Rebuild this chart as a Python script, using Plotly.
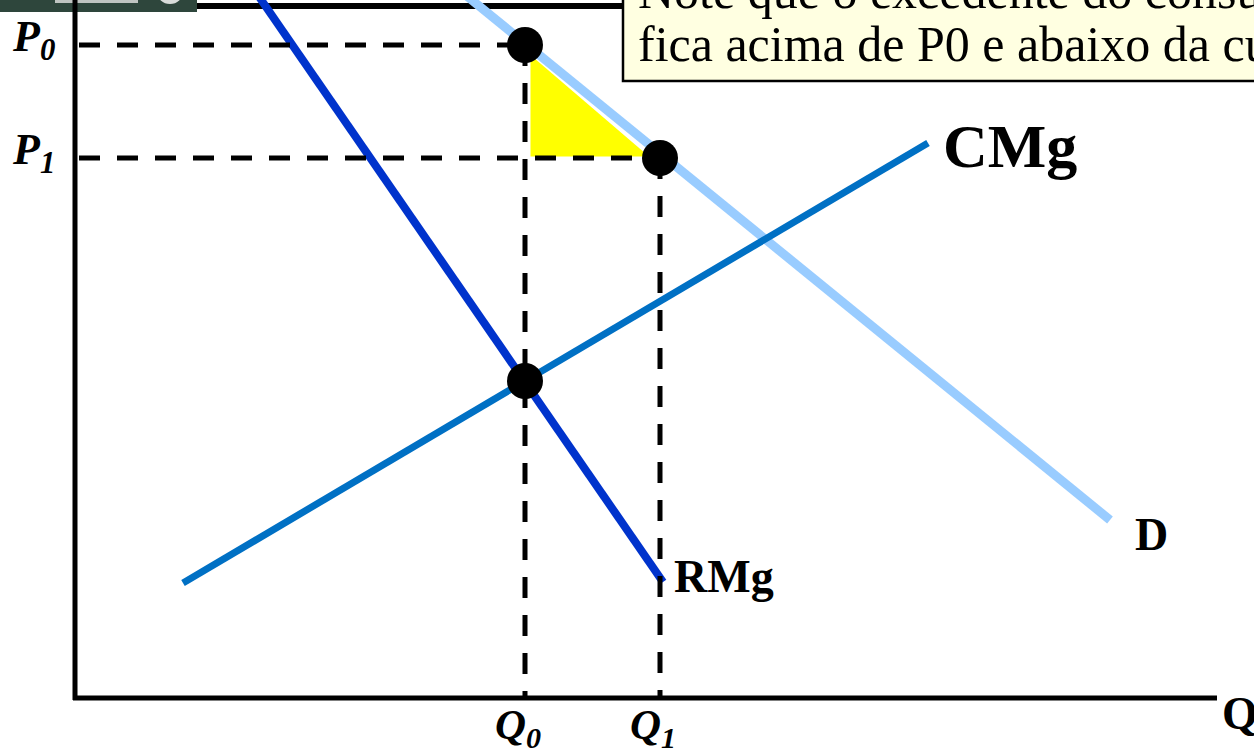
import plotly.graph_objects as go

# ---- data (chart units: Q on horizontal, P on vertical) ----
Q_LEVELS = [45.0, 58.5]          # Q0, Q1
P_LEVELS = [65.3, 54.0]          # P0, P1
CROSS = [45.0, 31.7]             # CMg = RMg
D_Q = [38.2, 103.5]
D_P = [71.0, 17.8]
CMG_Q = [10.8, 85.3]
CMG_P = [11.5, 55.5]
RMG_Q = [17.8, 58.8]
RMG_P = [71.0, 11.6]
Q_AXIS_END = 114.2
P_AXIS_END = 72.0
TOP_LINE_Q = [12.2, 56.0]
TOP_LINE_P = 69.2

P_LABELS = ["<b><i>P<sub>0</sub></i></b>", "<b><i>P<sub>1</sub></i></b>"]
Q_LABELS = ["<b><i>Q<sub>0</sub></i></b>", "<b><i>Q<sub>1</sub></i></b>"]
BOX_LINES = ["Note que o excedente do consumidor",
             "fica acima de P0 e abaixo da curva de demanda"]

SERIF = "Liberation Serif, Times New Roman, serif"

fig = go.Figure()

# yellow consumer surplus triangle (slightly inset from the dashed lines)
q0, q1 = Q_LEVELS
p0, p1 = P_LEVELS
fig.add_trace(go.Scatter(
    x=[q0 + 0.55, q0 + 0.55, q1 - 1.1, q0 + 0.55],
    y=[p0 - 1.0, p1 + 0.15, p1 + 0.15, p0 - 1.0],
    mode="lines", fill="toself", fillcolor="#FFFF00",
    line=dict(width=0, color="#FFFF00"), hoverinfo="skip"))

# curves
fig.add_trace(go.Scatter(x=D_Q, y=D_P, mode="lines",
                         line=dict(color="#99CCFF", width=9)))
fig.add_trace(go.Scatter(x=CMG_Q, y=CMG_P, mode="lines",
                         line=dict(color="#0070C4", width=7)))
fig.add_trace(go.Scatter(x=RMG_Q, y=RMG_P, mode="lines",
                         line=dict(color="#0033CC", width=8)))

# dashed guide lines
dash = "21px,17px"
for q, p in zip(Q_LEVELS, P_LEVELS):
    fig.add_trace(go.Scatter(x=[0.4, q], y=[p, p], mode="lines",
                             line=dict(color="black", width=5, dash=dash)))
    fig.add_trace(go.Scatter(x=[q, q], y=[p, 0], mode="lines",
                             line=dict(color="black", width=5, dash=dash)))

# points
fig.add_trace(go.Scatter(x=Q_LEVELS + [CROSS[0]], y=P_LEVELS + [CROSS[1]],
                         mode="markers",
                         marker=dict(color="black", size=36)))

shapes = []
# top dark bar (slide remnant)
shapes.append(dict(type="rect", xref="paper", yref="paper",
                   x0=0, x1=197 / 1254, y0=1 - 12 / 748, y1=1.01,
                   fillcolor="#2E463C", line=dict(width=0), layer="above"))
shapes.append(dict(type="rect", xref="paper", yref="paper",
                   x0=55 / 1254, x1=138 / 1254, y0=1 - 3 / 748, y1=1.01,
                   fillcolor="#BFC4C1", line=dict(width=0), layer="above"))
shapes.append(dict(type="circle", xref="paper", yref="paper",
                   x0=157 / 1254, x1=183 / 1254, y0=1 - 4 / 748, y1=1 + 20 / 748,
                   fillcolor="#D9DCDA", line=dict(width=0), layer="above"))
# top frame line
shapes.append(dict(type="line", x0=TOP_LINE_Q[0], x1=TOP_LINE_Q[1],
                   y0=TOP_LINE_P, y1=TOP_LINE_P,
                   line=dict(color="black", width=6), layer="below"))
# axes
shapes.append(dict(type="line", x0=0, x1=0, y0=-0.2, y1=P_AXIS_END,
                   line=dict(color="black", width=5), layer="above"))
shapes.append(dict(type="line", x0=-0.2, x1=Q_AXIS_END, y0=0, y1=0,
                   line=dict(color="black", width=5), layer="above"))
# text box
shapes.append(dict(type="rect", xref="paper", yref="paper",
                   x0=623 / 1254, x1=1.05, y0=1 - 81 / 748, y1=1.05,
                   fillcolor="#FFFFE1", line=dict(color="black", width=2.5),
                   layer="above"))

annotations = []
# text box lines
annotations.append(dict(xref="paper", yref="paper", x=636 / 1254, y=1 + 9 / 748,
                        xanchor="left", yanchor="middle", showarrow=False,
                        text=BOX_LINES[0],
                        font=dict(family=SERIF, size=50, color="black")))
annotations.append(dict(xref="paper", yref="paper", x=636 / 1254, y=1 - 44 / 748,
                        xanchor="left", yanchor="middle", showarrow=False,
                        text=BOX_LINES[1],
                        font=dict(family=SERIF, size=50, color="black")))
# curve labels
annotations.append(dict(x=CMG_Q[1], y=CMG_P[1], text="<b>CMg</b>", showarrow=False,
                        xanchor="left", yanchor="middle", xshift=13, yshift=-3,
                        font=dict(family=SERIF, size=62, color="black")))
annotations.append(dict(x=RMG_Q[1], y=RMG_P[1], text="<b>RMg</b>", showarrow=False,
                        xanchor="left", yanchor="middle", xshift=9, yshift=6,
                        font=dict(family=SERIF, size=46, color="black")))
annotations.append(dict(x=D_Q[1], y=D_P[1], text="<b>D</b>", showarrow=False,
                        xanchor="left", yanchor="middle", xshift=23, yshift=-14,
                        font=dict(family=SERIF, size=46, color="black")))
annotations.append(dict(x=Q_AXIS_END, y=0, text="<b>Q</b>", showarrow=False,
                        xanchor="left", yanchor="middle", xshift=3, yshift=-15,
                        font=dict(family=SERIF, size=46, color="black")))
# axis level labels
for p, lab in zip(P_LEVELS, P_LABELS):
    annotations.append(dict(x=0, y=p, text=lab, showarrow=False,
                            xanchor="right", yanchor="middle", xshift=-18, yshift=6,
                            font=dict(family=SERIF, size=44, color="black")))
for q, lab in zip(Q_LEVELS, Q_LABELS):
    annotations.append(dict(x=q, y=0, text=lab, showarrow=False,
                            xanchor="center", yanchor="top", xshift=-7, yshift=-1,
                            font=dict(family=SERIF, size=43, color="black")))

fig.update_layout(
    width=1254, height=748,
    margin=dict(l=0, r=0, t=0, b=0),
    paper_bgcolor="white", plot_bgcolor="white",
    showlegend=False,
    xaxis=dict(range=[-7.5, 117.9], showgrid=False, zeroline=False,
               showticklabels=False, ticks="", showline=False, fixedrange=True),
    yaxis=dict(range=[-5.0, 69.8], showgrid=False, zeroline=False,
               showticklabels=False, ticks="", showline=False, fixedrange=True),
    shapes=shapes, annotations=annotations,
)

fig.write_html("out.html", config={"displayModeBar": False})
